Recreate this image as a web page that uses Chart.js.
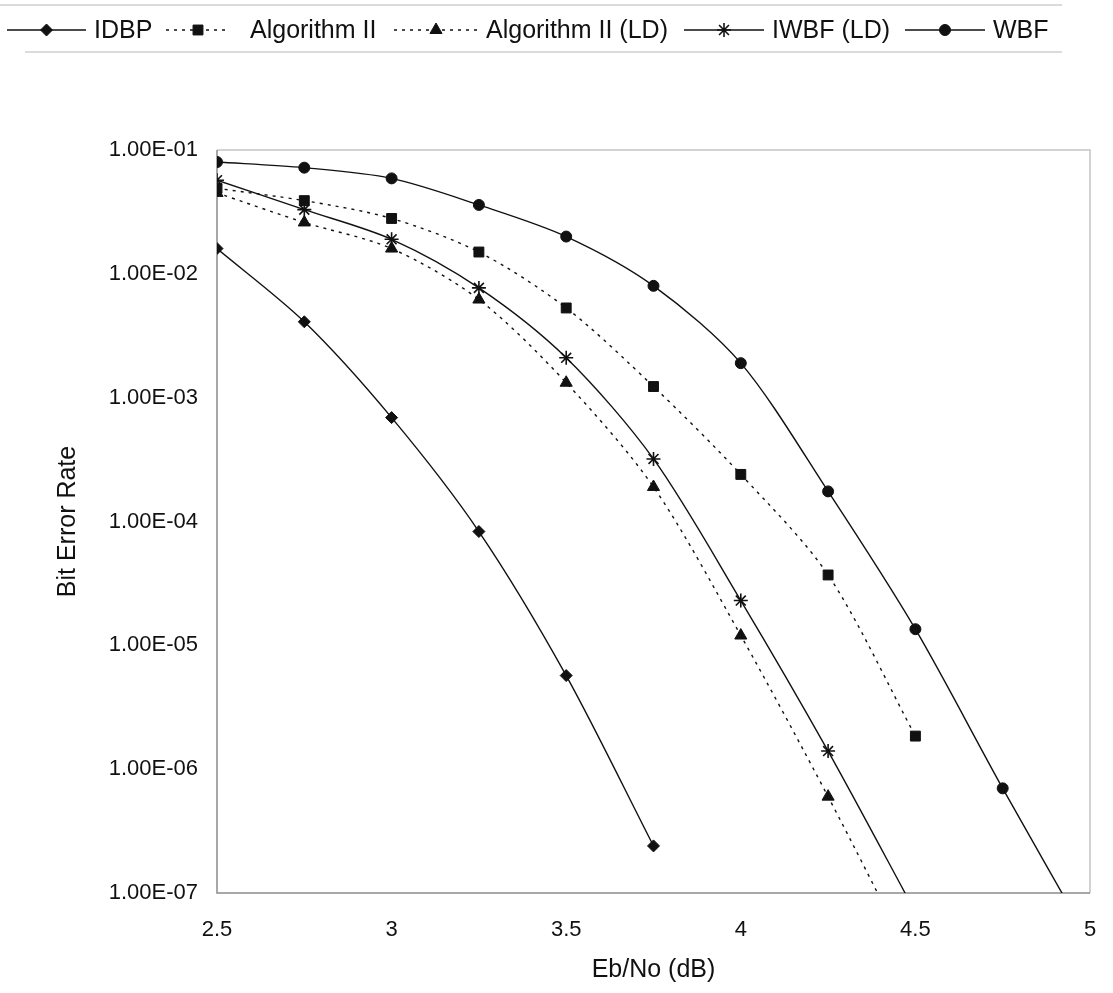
<!DOCTYPE html>
<html>
<head>
<meta charset="utf-8">
<script src="https://cdn.jsdelivr.net/npm/chart.js@4.4.0/dist/chart.umd.min.js"></script>
<style>
  html, body { margin: 0; padding: 0; background: #fff; }
</style>
</head>
<body>
<canvas id="berChart" width="1113" height="993"></canvas>
<script>
// Eb/No points (dB)
const ebno = [2.5, 2.75, 3, 3.25, 3.5, 3.75, 4, 4.25, 4.5, 4.75, 5];

// BER. Last points of some curves are below 1e-7 and get clipped.
const idbp    = [1.6e-2, 4.1e-3, 6.9e-4, 8.3e-5, 5.7e-6, 2.4e-7];
const algo2   = [4.9e-2, 3.9e-2, 2.8e-2, 1.5e-2, 5.3e-3, 1.23e-3, 2.4e-4, 3.7e-5, 1.85e-6];
const algo2LD = [4.5e-2, 2.6e-2, 1.6e-2, 6.2e-3, 1.32e-3, 1.9e-4, 1.2e-5, 6.0e-7, 2.5e-8];
const iwbfLD  = [5.7e-2, 3.3e-2, 1.9e-2, 7.7e-3, 2.1e-3, 3.2e-4, 2.3e-5, 1.4e-6, 7.0e-8];
const wbf     = [8.0e-2, 7.2e-2, 5.9e-2, 3.6e-2, 2.0e-2, 8.0e-3, 1.9e-3, 1.75e-4, 1.35e-5, 7.0e-7, 4.0e-8];

const seriesNames = ['IDBP', 'Algorithm II', 'Algorithm II (LD)', 'IWBF (LD)', 'WBF'];

const xTicks = [2.5, 3, 3.5, 4, 4.5, 5];
const xTickLabels = ['2.5', '3', '3.5', '4', '4.5', '5'];
const yTicks = [1e-1, 1e-2, 1e-3, 1e-4, 1e-5, 1e-6, 1e-7];
const yTickLabels = ['1.00E-01', '1.00E-02', '1.00E-03', '1.00E-04', '1.00E-05', '1.00E-06', '1.00E-07'];

const FONT = "'Liberation Sans', Arial, Helvetica, sans-serif";
const INK = '#111';

function pts(vals) {
  return vals.map((v, i) => ({ x: ebno[i], y: v }));
}

function series(name, vals, style, radius, dash) {
  return {
    label: name,
    data: pts(vals),
    borderColor: INK,
    backgroundColor: INK,
    borderWidth: 1.4,
    borderDash: dash,
    tension: 0.3,
    pointStyle: style,
    pointRadius: radius,
    pointBackgroundColor: INK,
    pointBorderColor: INK,
    pointBorderWidth: style === 'star' ? 1.6 : 1,
    fill: false
  };
}

// legend row: line sample with a marker in the middle, then the name
// [sample start, sample end, text x] for each entry
const legendSlots = [[7, 86, 94], [166, 230, 250], [394, 478, 486], [684, 764, 772], [905, 985, 993]];

const legendRow = {
  id: 'legendRow',
  afterDraw(chart) {
    const ctx = chart.ctx;
    const y = 30;
    ctx.save();
    ctx.strokeStyle = '#d0d0d0';
    ctx.lineWidth = 1.5;
    ctx.beginPath();
    ctx.moveTo(0, 5); ctx.lineTo(1062, 5);
    ctx.moveTo(25, 52); ctx.lineTo(1062, 52);
    ctx.stroke();

    ctx.font = '25px ' + FONT;
    ctx.textBaseline = 'middle';
    chart.data.datasets.forEach((ds, i) => {
      const [x0, x1, tx] = legendSlots[i];
      ctx.strokeStyle = INK;
      ctx.fillStyle = INK;
      ctx.lineWidth = ds.borderWidth;
      ctx.setLineDash(ds.borderDash || []);
      ctx.beginPath();
      ctx.moveTo(x0, y); ctx.lineTo(x1, y);
      ctx.stroke();
      ctx.setLineDash([]);
      ctx.lineWidth = ds.pointBorderWidth;
      Chart.helpers.drawPoint(ctx, {
        pointStyle: ds.pointStyle, rotation: 0,
        radius: ds.pointRadius, borderWidth: ds.pointBorderWidth
      }, (x0 + x1) / 2, y);
      ctx.fillText(ds.label, tx, y + 1);
    });
    ctx.restore();
  }
};

// plot frame, darker on the axis sides
const frame = {
  id: 'frame',
  beforeDatasetsDraw(chart) {
    const { left, right, top, bottom } = chart.chartArea;
    const ctx = chart.ctx;
    ctx.save();
    ctx.lineWidth = 1.5;
    ctx.strokeStyle = '#c4c4c4';
    ctx.beginPath();
    ctx.moveTo(left, top); ctx.lineTo(right, top); ctx.lineTo(right, bottom);
    ctx.stroke();
    ctx.strokeStyle = '#8c8c8c';
    ctx.beginPath();
    ctx.moveTo(left, top); ctx.lineTo(left, bottom); ctx.lineTo(right, bottom);
    ctx.stroke();
    ctx.restore();
  }
};

const ctx = document.getElementById('berChart').getContext('2d');
const berChart = new Chart(ctx, {
  type: 'line',
  data: {
    datasets: [
      series(seriesNames[0], idbp, 'rectRot', 6, []),
      series(seriesNames[1], algo2, 'rect', 7, [3, 5]),
      series(seriesNames[2], algo2LD, 'triangle', 7, [3, 5]),
      series(seriesNames[3], iwbfLD, 'star', 7, []),
      series(seriesNames[4], wbf, 'circle', 5.5, [])
    ]
  },
  plugins: [legendRow, frame],
  options: {
    responsive: false,
    animation: false,
    layout: { padding: { top: 150, right: 23, left: 0, bottom: 0 } },
    plugins: {
      legend: { display: false },
      tooltip: { enabled: false }
    },
    scales: {
      x: {
        type: 'linear',
        min: 2.5,
        max: 5,
        afterFit(scale) {
          scale.height = 100;
          scale.paddingLeft = 0;
          scale.paddingRight = 0;
        },
        afterBuildTicks(scale) { scale.ticks = xTicks.map(v => ({ value: v })); },
        grid: { display: false, drawTicks: false },
        border: { display: false },
        ticks: {
          padding: 24,
          color: INK,
          font: { family: FONT, size: 22 },
          callback: (v) => xTickLabels[xTicks.indexOf(v)]
        },
        title: {
          display: true,
          text: 'Eb/No (dB)',
          color: INK,
          font: { family: FONT, size: 25 },
          padding: { bottom: 8 }
        }
      },
      y: {
        type: 'logarithmic',
        min: 1e-7,
        max: 1e-1,
        afterFit(scale) { scale.width = 217; },
        afterBuildTicks(scale) { scale.ticks = yTicks.map(v => ({ value: v })); },
        grid: { display: false, drawTicks: false },
        border: { display: false },
        ticks: {
          padding: 19,
          color: INK,
          font: { family: FONT, size: 22 },
          callback: (v) => yTickLabels[yTicks.indexOf(v)]
        },
        title: {
          display: true,
          text: 'Bit Error Rate',
          color: INK,
          font: { family: FONT, size: 25 },
          padding: { top: 53 }
        }
      }
    }
  }
});
</script>
</body>
</html>
